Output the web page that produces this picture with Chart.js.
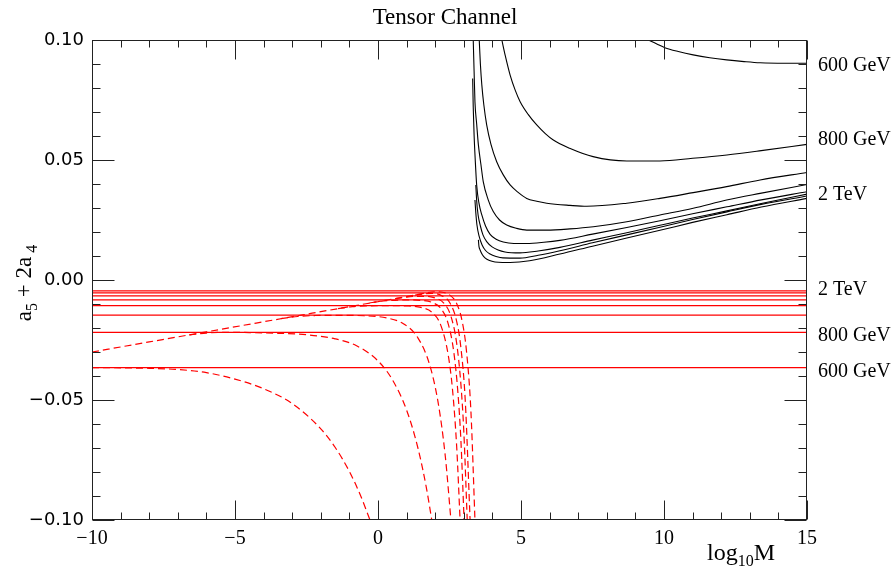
<!DOCTYPE html>
<html>
<head>
<meta charset="utf-8">
<script src="https://cdn.jsdelivr.net/npm/chart.js@4.4.1/dist/chart.umd.min.js"></script>
<style>
  html, body { margin: 0; padding: 0; background: #fff; }
  #c { display: block; }
</style>
</head>
<body>
<canvas id="c" width="894" height="573"></canvas>
<script>
// Axis ranges and tick labels
const xRange = [-10, 15];
const yRange = [-0.10, 0.10];
const xTickValues = [-10, -5, 0, 5, 10, 15];
const yTickValues = [0.10, 0.05, 0.00, -0.05, -0.10];

// Mass labels on the right margin, placed at the level of their curves
const massLabels = ['600 GeV', '800 GeV', '2 TeV', '2 TeV', '800 GeV', '600 GeV'];
const massLabelLevels = [0.0892, 0.0583, 0.0354, -0.0042, -0.0233, -0.0381];

// Upper bounds (black), one curve per mass, [log10 M, a5 + 2a4]
const upper600 = [[9.45,0.1000],[9.75,0.0983],[10.03,0.0968],[10.5,0.0952],[11.02,0.0938],[11.6,0.0926],[12.19,0.0917],[12.8,0.0910],[13.36,0.0905],[14.2,0.0903],[15.0,0.0903]];
const upper800 = [[4.33,0.1000],[4.45,0.0935],[4.62,0.0854],[4.80,0.0790],[4.97,0.0743],[5.25,0.0690],[5.55,0.0646],[5.85,0.0610],[6.13,0.0583],[6.70,0.0549],[7.52,0.0514],[8.70,0.0496],[9.86,0.0496],[11.0,0.0507],[12.2,0.0521],[13.4,0.0539],[15.0,0.0565]];
const upperM3 = [[3.54,0.1000],[3.58,0.0900],[3.63,0.0813],[3.70,0.0730],[3.80,0.0646],[3.95,0.0565],[4.15,0.0493],[4.38,0.0438],[4.62,0.0396],[4.90,0.0365],[5.20,0.0340],[5.55,0.0328],[5.90,0.0320],[6.71,0.0311],[7.30,0.0307],[8.70,0.0320],[9.86,0.0340],[11.02,0.0364],[12.19,0.0389],[13.36,0.0417],[15.0,0.0448]];
const upperM4 = [[3.33,0.1000],[3.36,0.0870],[3.39,0.0743],[3.45,0.0650],[3.51,0.0563],[3.60,0.0480],[3.68,0.0410],[3.85,0.0335],[4.03,0.0285],[4.25,0.0250],[4.50,0.0229],[4.85,0.0215],[5.20,0.0208],[5.90,0.0208],[6.71,0.0213],[7.53,0.0222],[8.70,0.0243],[9.86,0.0271],[11.02,0.0299],[12.19,0.0333],[13.36,0.0361],[15.0,0.0398]];
const upperM5 = [[3.31,0.0840],[3.33,0.0720],[3.36,0.0604],[3.40,0.0500],[3.45,0.0396],[3.53,0.0320],[3.63,0.0271],[3.76,0.0225],[3.92,0.0190],[4.13,0.0170],[4.38,0.0158],[4.75,0.0152],[5.20,0.0152],[5.80,0.0157],[6.36,0.0165],[7.5,0.0191],[8.7,0.0219],[9.86,0.0247],[11.0,0.0276],[12.2,0.0305],[13.4,0.0334],[15.0,0.0368]];
const upperM6 = [[3.42,0.0396],[3.45,0.0330],[3.50,0.0271],[3.58,0.0225],[3.67,0.0188],[3.80,0.0160],[3.99,0.0138],[4.20,0.0125],[4.44,0.0117],[4.96,0.0113],[5.6,0.0121],[6.36,0.0136],[7.5,0.0166],[8.7,0.0197],[9.86,0.0228],[11.0,0.0258],[12.2,0.0288],[13.4,0.0319],[15.0,0.0358]];
const upperM7 = [[3.39,0.0333],[3.42,0.0280],[3.46,0.0229],[3.53,0.0185],[3.64,0.0146],[3.76,0.0123],[3.92,0.0108],[4.13,0.0098],[4.37,0.0092],[4.96,0.0091],[5.6,0.0103],[6.36,0.0122],[7.5,0.0155],[8.7,0.0188],[9.86,0.0220],[11.0,0.0252],[12.2,0.0284],[13.4,0.0315],[15.0,0.0350]];
const upperM8 = [[3.51,0.0167],[3.53,0.0140],[3.57,0.0125],[3.65,0.0105],[3.74,0.0092],[3.90,0.0081],[4.09,0.0075],[4.35,0.0073],[4.62,0.0073],[5.3,0.0080],[6.36,0.0108],[7.5,0.0141],[8.7,0.0175],[9.86,0.0207],[11.0,0.0240],[12.2,0.0272],[13.4,0.0304],[15.0,0.0340]];

// Lower limits (red solid), constant in log10 M
const lowerLevels = [-0.0365, -0.0218, -0.0146, -0.0107, -0.0083, -0.0066, -0.0054, -0.0045];

// Lower bounds (red dashed), one per mass; the heaviest one carries the common
// rising branch, the others start where they leave it
const lower600 = [[-10,-0.0365],[-9,-0.0366],[-8,-0.0368],[-7,-0.0373],[-6,-0.0386],[-5,-0.0413],[-4,-0.0453],[-3,-0.0515],[-2,-0.0620],[-1.5,-0.0697],[-1,-0.0798],[-0.6,-0.0901],[-0.28,-0.1000]];
const lower800 = [[-6.6,-0.0229],[-6.0,-0.0221],[-5.3,-0.0218],[-4.5,-0.0219],[-3.5,-0.0222],[-2.5,-0.0228],[-1.5,-0.0245],[-0.75,-0.0274],[0,-0.0337],[0.5,-0.0415],[1,-0.0542],[1.4,-0.0702],[1.7,-0.0871],[1.88,-0.1000]];
const lowerM3 = [[-3.4,-0.0161],[-2.8,-0.0152],[-2.2,-0.0148],[-1.5,-0.0147],[-0.5,-0.0149],[0.3,-0.0158],[0.9,-0.0183],[1.4,-0.0242],[1.8,-0.0351],[2.1,-0.0509],[2.35,-0.0731],[2.55,-0.1000]];
const lowerM4 = [[-1.4,-0.0119],[-0.9,-0.0111],[-0.4,-0.0108],[0.3,-0.0107],[1.0,-0.0108],[1.5,-0.0114],[1.9,-0.0136],[2.2,-0.0190],[2.45,-0.0309],[2.6,-0.0450],[2.75,-0.0692],[2.87,-0.1000]];
const lowerM5 = [[-0.3,-0.0096],[0,-0.0090],[0.5,-0.0085],[1.0,-0.0083],[1.5,-0.0085],[1.9,-0.0094],[2.2,-0.0119],[2.45,-0.0181],[2.65,-0.0300],[2.8,-0.0478],[2.9,-0.0672],[3.01,-0.1000]];
const lowerM6 = [[0.6,-0.0078],[1.0,-0.0071],[1.4,-0.0068],[1.8,-0.0069],[2.0,-0.0075],[2.3,-0.0096],[2.55,-0.0151],[2.75,-0.0263],[2.9,-0.0437],[3.0,-0.0630],[3.12,-0.1000]];
const lowerM7 = [[1.3,-0.0063],[1.6,-0.0058],[1.9,-0.0056],[2.2,-0.0064],[2.5,-0.0093],[2.75,-0.0172],[2.9,-0.0284],[3.05,-0.0500],[3.22,-0.1000]];
const lowerM8 = [[-10,-0.0300],[-8,-0.0258],[-6,-0.0216],[-4,-0.0174],[-2,-0.0132],[0,-0.0090],[1,-0.0069],[1.6,-0.0056],[2.0,-0.0049],[2.2,-0.0050],[2.5,-0.0062],[2.75,-0.0098],[2.95,-0.0176],[3.1,-0.0303],[3.25,-0.0550],[3.39,-0.1000]];

const upperCurves = [upper600, upper800, upperM3, upperM4, upperM5, upperM6, upperM7, upperM8];
const lowerCurves = [lower600, lower800, lowerM3, lowerM4, lowerM5, lowerM6, lowerM7, lowerM8];

const toPoints = arr => arr.map(([x, y]) => ({ x, y }));
const minus = '\u2212';

const datasets = [];
lowerLevels.forEach(level => {
  datasets.push({
    data: toPoints([[xRange[0], level], [xRange[1], level]]),
    borderColor: '#ff0000', borderWidth: 1.3, pointRadius: 0, tension: 0
  });
});
lowerCurves.forEach(curve => {
  datasets.push({
    data: toPoints(curve),
    borderColor: '#ff0000', borderWidth: 1.2, borderDash: [7, 4],
    pointRadius: 0, cubicInterpolationMode: 'monotone'
  });
});
upperCurves.forEach(curve => {
  datasets.push({
    data: toPoints(curve),
    borderColor: '#000000', borderWidth: 1.1, pointRadius: 0,
    cubicInterpolationMode: 'monotone'
  });
});

// Draws text pieces in sequence: [text, fontSize, baselineShift]
function drawRun(ctx, pieces, family) {
  let x = 0;
  pieces.forEach(([t, size, shift]) => {
    ctx.font = size + 'px ' + family;
    ctx.fillText(t, x, shift);
    x += ctx.measureText(t).width;
  });
  return x;
}
function runWidth(ctx, pieces, family) {
  let w = 0;
  pieces.forEach(([t, size]) => { ctx.font = size + 'px ' + family; w += ctx.measureText(t).width; });
  return w;
}

const serif = '"Liberation Serif", "Times New Roman", serif';

const framePlugin = {
  id: 'frame',
  afterDatasetsDraw(chart) {
    const { ctx, chartArea: a, scales: { x, y } } = chart;
    ctx.save();
    ctx.strokeStyle = '#222';
    ctx.lineWidth = 1;
    const L = Math.round(a.left) + 0.5, R = Math.round(a.right) - 0.5;
    const T = Math.round(a.top) + 0.5, B = Math.round(a.bottom) - 0.5;
    ctx.strokeRect(L, T, R - L, B - T);
    ctx.beginPath();
    for (let k = xRange[0]; k <= xRange[1]; k++) {
      const px = Math.round(x.getPixelForValue(k)) + 0.5;
      const len = k % 5 === 0 ? 19 : 7;
      ctx.moveTo(px, B); ctx.lineTo(px, B - len);
      ctx.moveTo(px, T); ctx.lineTo(px, T + len);
    }
    for (let k = -10; k <= 10; k++) {
      const py = Math.round(y.getPixelForValue(k / 100)) + 0.5;
      const len = k % 5 === 0 ? 22 : 8;
      ctx.moveTo(L, py); ctx.lineTo(L + len, py);
      ctx.moveTo(R, py); ctx.lineTo(R - len, py);
    }
    ctx.stroke();

    ctx.fillStyle = '#000';
    // Title
    ctx.font = '23px ' + serif;
    ctx.textAlign = 'center';
    ctx.textBaseline = 'alphabetic';
    ctx.fillText('Tensor Channel', 445, 24);

    // Mass labels on the right
    ctx.font = '20px ' + serif;
    ctx.textAlign = 'left';
    ctx.textBaseline = 'middle';
    massLabels.forEach((t, i) => ctx.fillText(t, 818, y.getPixelForValue(massLabelLevels[i])));

    // x axis title: log10 M
    ctx.textAlign = 'left';
    ctx.textBaseline = 'alphabetic';
    const xt = [['log', 24, 0], ['10', 16, 6], ['M', 24, 0]];
    const xw = runWidth(ctx, xt, serif);
    ctx.save();
    ctx.translate(775 - xw, 560);
    drawRun(ctx, xt, serif);
    ctx.restore();

    // y axis title: a5 + 2a4
    const yt = [['a', 23, 0], ['5', 16, 6], [' + 2a', 23, 0], [' 4', 16, 6]];
    const yw = runWidth(ctx, yt, serif);
    ctx.save();
    ctx.translate(31, 283 + yw / 2);
    ctx.rotate(-Math.PI / 2);
    drawRun(ctx, yt, serif);
    ctx.restore();

    ctx.restore();
  }
};

new Chart(document.getElementById('c'), {
  type: 'line',
  data: { datasets },
  options: {
    responsive: false,
    devicePixelRatio: 1,
    animation: false,
    events: [],
    layout: { padding: { top: 40, right: 87, left: 0, bottom: 0 } },
    plugins: { legend: { display: false }, tooltip: { enabled: false }, title: { display: false } },
    scales: {
      x: {
        type: 'linear', min: xRange[0], max: xRange[1],
        grid: { display: false, drawTicks: false },
        border: { display: false },
        afterBuildTicks: s => { s.ticks = xTickValues.map(v => ({ value: v })); },
        afterFit: s => { s.height = 53; },
        ticks: {
          autoSkip: false, maxRotation: 0, padding: 7, color: '#000',
          font: { family: serif, size: 20 },
          callback: v => (v < 0 ? minus + Math.abs(v) : String(v))
        }
      },
      y: {
        type: 'linear', min: yRange[0], max: yRange[1],
        grid: { display: false, drawTicks: false },
        border: { display: false },
        afterBuildTicks: s => { s.ticks = yTickValues.map(v => ({ value: v })); },
        afterFit: s => { s.width = 92; },
        ticks: {
          autoSkip: false, padding: 8, color: '#000',
          font: { family: '"DejaVu Sans", sans-serif', size: 18 },
          callback: v => { const t = Math.abs(v).toFixed(2); return v < -1e-9 ? minus + t : t; }
        }
      }
    }
  },
  plugins: [framePlugin]
});
</script>
</body>
</html>
